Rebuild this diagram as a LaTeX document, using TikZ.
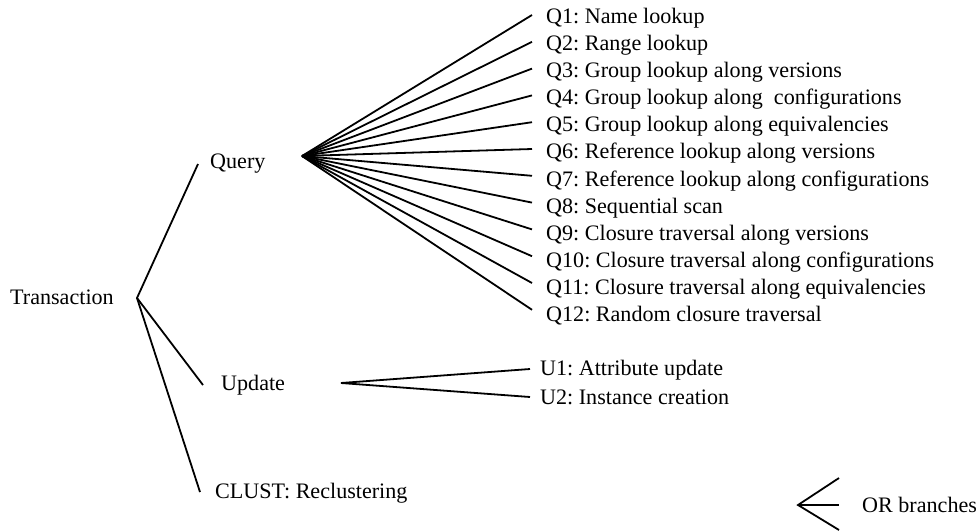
\documentclass[tikz,border=0pt]{standalone}
\usepackage{fontspec}
\setmainfont{Liberation Serif}
\frenchspacing
\begin{document}
\begin{tikzpicture}[x=1pt,y=-1pt,
  branch/.style={line width=1.8pt},
  lbl/.style={anchor=west,inner sep=0pt,font=\fontsize{22.1}{26}\selectfont}]
\useasboundingbox (0,0) rectangle (979,531);

% transaction tree: top level
\node[lbl] (trans)  at (10,297)  {Transaction};
\node[lbl] (query)  at (210,164) {Query};
\node[lbl] (update) at (221,385) {Update};
\node[lbl] (clust)  at (215,493) {CLUST: Reclustering};

\coordinate (jT)   at (137,298);
\coordinate (qIn)  at (198,164);
\coordinate (uIn)  at (203,385);
\coordinate (cIn)  at (200,492);
\draw[branch] (qIn) -- (jT) -- (uIn);
\draw[branch] (jT) -- (cIn);

% query types
\coordinate (qApex) at (302,156);
\foreach \i/\t in {1/{Name lookup},
                   2/{Range lookup},
                   3/{Group lookup along versions},
                   4/{Group lookup along\ \ configurations},
                   5/{Group lookup along equivalencies},
                   6/{Reference lookup along versions},
                   7/{Reference lookup along configurations},
                   8/{Sequential scan},
                   9/{Closure traversal along versions},
                   10/{Closure traversal along configurations},
                   11/{Closure traversal along equivalencies},
                   12/{Random closure traversal}} {
  \coordinate (qe\i) at (532,{15+26.8*(\i-1)});
  \node[lbl] (q\i) at (546,{18+27.1*(\i-1)}) {Q\i:\ \ignorespaces\t};
  \draw[branch] (qApex) -- (qe\i);
}

% update types
\coordinate (uApex) at (341,383);
\coordinate (ue1) at (530,369);
\coordinate (ue2) at (530,397);
\node[lbl] (u1) at (540,370) {U1: Attribute update};
\node[lbl] (u2) at (540,397) {U2: Instance creation};
\draw[branch] (ue1) -- (uApex) -- (ue2);

% legend
\coordinate (lApex) at (798,505);
\coordinate (le1) at (839,478);
\coordinate (le2) at (839,505);
\coordinate (le3) at (839,530);
\node[lbl] (legend) at (862,505) {OR branches};
\draw[branch] (le1) -- (lApex) -- (le3);
\draw[branch] (lApex) -- (le2);
\end{tikzpicture}
\end{document}
